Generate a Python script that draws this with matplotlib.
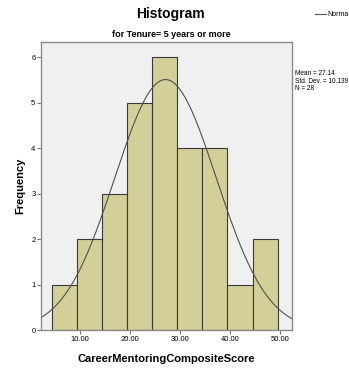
import numpy as np
import matplotlib
matplotlib.use('Agg')
import matplotlib.pyplot as plt

# histogram bins (score) and counts
bin_edges = [4.5, 9.5, 14.5, 19.5, 24.5, 29.5, 34.5, 39.5, 44.5, 49.5]
counts = [1, 2, 3, 5, 6, 4, 4, 1, 2]
mean = 27.14
std = 10.139
n = 28
xticks = [10, 20, 30, 40, 50]
xticklabels = ['10.00', '20.00', '30.00', '40.00', '50.00']
yticks = [0, 1, 2, 3, 4, 5, 6]

plt.rcParams['font.family'] = ['Liberation Sans', 'DejaVu Sans']

fig = plt.figure(figsize=(3.49, 3.70), dpi=100)
ax = fig.add_axes([0.1175, 0.108, 0.7195, 0.778])
ax.set_facecolor('#f0f0f0')

widths = np.diff(bin_edges)
ax.bar(bin_edges[:-1], counts, width=widths, align='edge',
       color='#d3cf98', edgecolor='#3a3a3a', linewidth=0.8)

xs = np.linspace(2.3, 52.4, 300)
binw = widths[0]
ys = n * binw / (std * np.sqrt(2 * np.pi)) * np.exp(-0.5 * ((xs - mean) / std) ** 2)
ax.plot(xs, ys, color='#505050', linewidth=0.8)

ax.set_xlim(2.3, 52.4)
ax.set_ylim(0, 6.33)
ax.set_xticks(xticks)
ax.set_xticklabels(xticklabels)
ax.set_yticks(yticks)
ax.tick_params(labelsize=5.5, length=3, width=0.6, color='#555555', pad=1)
for s in ax.spines.values():
    s.set_color('#8a8a8a')
    s.set_linewidth(1.0)

ax.set_xlabel('CareerMentoringCompositeScore', fontsize=8, fontweight='bold', labelpad=8)
ax.set_ylabel('Frequency', fontsize=8, fontweight='bold', labelpad=4)

fig.text(0.487, 0.963, 'Histogram', ha='center', va='center', fontsize=10,
         fontweight='bold')
fig.text(0.49, 0.908, 'for Tenure= 5 years or more', ha='center', va='center',
         fontsize=6.5, fontweight='bold')

fig.text(0.845, 0.81, 'Mean = %.2f\nStd. Dev. = %.3f\nN = %d' % (mean, std, n),
         ha='left', va='top', fontsize=4.7, linespacing=1.05)

fig.lines.append(plt.Line2D([0.903, 0.935], [0.962, 0.962], color='#505050',
                            linewidth=0.8, transform=fig.transFigure))
fig.text(0.937, 0.962, 'Norma', ha='left', va='center', fontsize=5)

fig.savefig('out.png', dpi=100)
